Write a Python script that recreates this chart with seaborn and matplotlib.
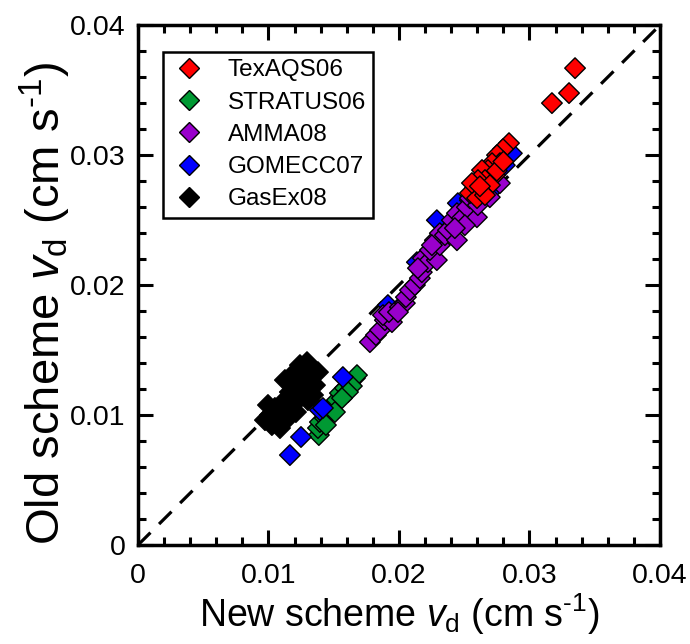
import numpy as np
import pandas as pd
import matplotlib
matplotlib.use("Agg")
import matplotlib.pyplot as plt
import seaborn as sns
from matplotlib.ticker import MultipleLocator

sns.set_theme(style="ticks")
plt.rcParams['font.family'] = ['Liberation Sans', 'DejaVu Sans']
plt.rcParams['mathtext.fontset'] = 'custom'
plt.rcParams['mathtext.rm'] = 'Liberation Sans'
plt.rcParams['mathtext.it'] = 'Liberation Sans:italic'
plt.rcParams['text.color'] = 'black'
plt.rcParams['axes.labelcolor'] = 'black'
plt.rcParams['xtick.color'] = 'black'
plt.rcParams['ytick.color'] = 'black'

campaigns = ["TexAQS06", "STRATUS06", "AMMA08", "GOMECC07", "GasEx08"]
colors = ["#FF0000", "#009933", "#9900CC", "#0000FF", "#000000"]

gasex_new = [0.01011, 0.01026, 0.01049, 0.01072, 0.01088, 0.01111, 0.01126, 0.01149, 0.01164,
             0.01187, 0.01203, 0.01226, 0.01241, 0.01256, 0.01279, 0.01295, 0.01318, 0.01333,
             0.01341, 0.01302, 0.01210, 0.01241, 0.01180, 0.01356, 0.00973, 0.00996, 0.01126, 0.01379]
gasex_old = [0.01000, 0.00923, 0.01054, 0.00961, 0.00900, 0.01023, 0.01115, 0.00977, 0.01177,
             0.01077, 0.01230, 0.01130, 0.01284, 0.01192, 0.01330, 0.01407, 0.01269, 0.01361,
             0.01154, 0.01115, 0.01023, 0.01384, 0.01307, 0.01230, 0.00961, 0.01077, 0.01269, 0.01330]

stratus_new = [0.01386, 0.01379, 0.01394, 0.01432, 0.01471, 0.01494, 0.01524, 0.01547, 0.01586,
               0.01624, 0.01662, 0.01678, 0.01639, 0.01609, 0.01563, 0.01509, 0.01440]
stratus_old = [0.00846, 0.00900, 0.00946, 0.00977, 0.01038, 0.01077, 0.01115, 0.01169, 0.01207,
               0.01246, 0.01284, 0.01307, 0.01223, 0.01177, 0.01130, 0.01023, 0.00923]

gomecc_new = [0.01164, 0.01249, 0.01394, 0.01417, 0.01570, 0.01915, 0.02137, 0.02290, 0.02451,
              0.02712, 0.02865, 0.02811, 0.02543]
gomecc_old = [0.00692, 0.00831, 0.01038, 0.01054, 0.01292, 0.01846, 0.02176, 0.02499, 0.02630,
              0.02730, 0.03014, 0.02922, 0.02653]

amma_new = [0.01777, 0.01823, 0.01854, 0.01892, 0.01946, 0.01877, 0.01923, 0.02007, 0.02045,
            0.02053, 0.02084, 0.02122, 0.02160, 0.02175, 0.02183, 0.02221, 0.02290, 0.02237,
            0.02275, 0.02313, 0.02313, 0.02352, 0.02375, 0.02444, 0.02405, 0.02444, 0.02482,
            0.02597, 0.02520, 0.02543, 0.02604, 0.02566, 0.02505, 0.02428, 0.02643, 0.02696,
            0.02773, 0.02145, 0.01992, 0.02252]
amma_old = [0.01561, 0.01615, 0.01653, 0.01730, 0.01715, 0.01769, 0.01792, 0.01830, 0.01861,
            0.01907, 0.01961, 0.02000, 0.02053, 0.02099, 0.02207, 0.02176, 0.02192, 0.02269,
            0.02345, 0.02307, 0.02399, 0.02384, 0.02422, 0.02345, 0.02499, 0.02553, 0.02515,
            0.02522, 0.02599, 0.02668, 0.02615, 0.02715, 0.02461, 0.02438, 0.02730, 0.02676,
            0.02784, 0.02130, 0.01792, 0.02307]

texaqs_new = [0.03349, 0.03303, 0.03172, 0.02843, 0.02797, 0.02751, 0.02774, 0.02713, 0.02682,
              0.02636, 0.02736, 0.02659, 0.02605, 0.02697, 0.02582, 0.02636, 0.02544, 0.02598,
              0.02659, 0.02559, 0.02620, 0.02750, 0.02800]
texaqs_old = [0.03669, 0.03477, 0.03400, 0.03092, 0.03046, 0.03000, 0.02938, 0.02938, 0.02885,
              0.02885, 0.02846, 0.02808, 0.02808, 0.02769, 0.02746, 0.02715, 0.02708, 0.02669,
              0.02692, 0.02785, 0.02760, 0.02880, 0.02950]

# draw order (bottom to top): GasEx08, STRATUS06, GOMECC07, AMMA08, TexAQS06
frames = []
for name, xs, ys in [("GasEx08", gasex_new, gasex_old),
                     ("STRATUS06", stratus_new, stratus_old),
                     ("GOMECC07", gomecc_new, gomecc_old),
                     ("AMMA08", amma_new, amma_old),
                     ("TexAQS06", texaqs_new, texaqs_old)]:
    frames.append(pd.DataFrame({"new": xs, "old": ys, "campaign": name}))
df = pd.concat(frames, ignore_index=True)

fig = plt.figure(figsize=(6.9, 6.44), dpi=100)
ax = fig.add_axes([0.2, 0.1537, 0.7565, 0.8073])

ax.plot([0, 0.04], [0, 0.04], color="black", lw=2.3, dashes=(5.5, 3.8), zorder=1)

sns.scatterplot(data=df, x="new", y="old", hue="campaign", hue_order=campaigns,
                palette=dict(zip(campaigns, colors)), marker="D", s=110,
                edgecolor="black", linewidth=1.0, ax=ax, zorder=3)

ax.set_xlim(0, 0.04)
ax.set_ylim(0, 0.04)
ax.set_xticks([0, 0.01, 0.02, 0.03, 0.04])
ax.set_yticks([0, 0.01, 0.02, 0.03, 0.04])
ax.set_xticklabels(["0", "0.01", "0.02", "0.03", "0.04"])
ax.set_yticklabels(["0", "0.01", "0.02", "0.03", "0.04"])
ax.xaxis.set_minor_locator(MultipleLocator(0.002))
ax.yaxis.set_minor_locator(MultipleLocator(0.002))
ax.tick_params(which="both", direction="in", top=True, right=True, width=2.2, labelsize=20.5, color="black")
ax.tick_params(which="major", length=11)
ax.tick_params(axis="x", which="major", pad=13)
ax.tick_params(axis="y", which="major", pad=9)
ax.tick_params(which="minor", length=6)
for sp in ax.spines.values():
    sp.set_linewidth(2.5)
    sp.set_color("black")

ax.set_xlabel(r"New scheme $\mathit{v}_\mathrm{d}$ (cm s$^{\text{-1}}$)", fontsize=27, labelpad=2)
ax.set_ylabel(r"Old scheme $\mathit{v}_\mathrm{d}$ (cm s$^{\text{-1}}$)", fontsize=34)
ax.yaxis.set_label_coords(-0.125, 0.465)

leg = ax.legend(loc="upper left", bbox_to_anchor=(0.048, 0.948), borderaxespad=0,
                fontsize=17.5, frameon=True,
                fancybox=False, edgecolor="black", framealpha=1, borderpad=0.3,
                labelspacing=0.42, handlelength=1.5, handletextpad=0.85, markerscale=1.0, title=None)
leg.get_frame().set_linewidth(1.8)
for h in leg.legend_handles:
    try:
        h.set_markeredgecolor("black")
    except AttributeError:
        h.set_edgecolor("black")

fig.savefig("out.png", dpi=100)
